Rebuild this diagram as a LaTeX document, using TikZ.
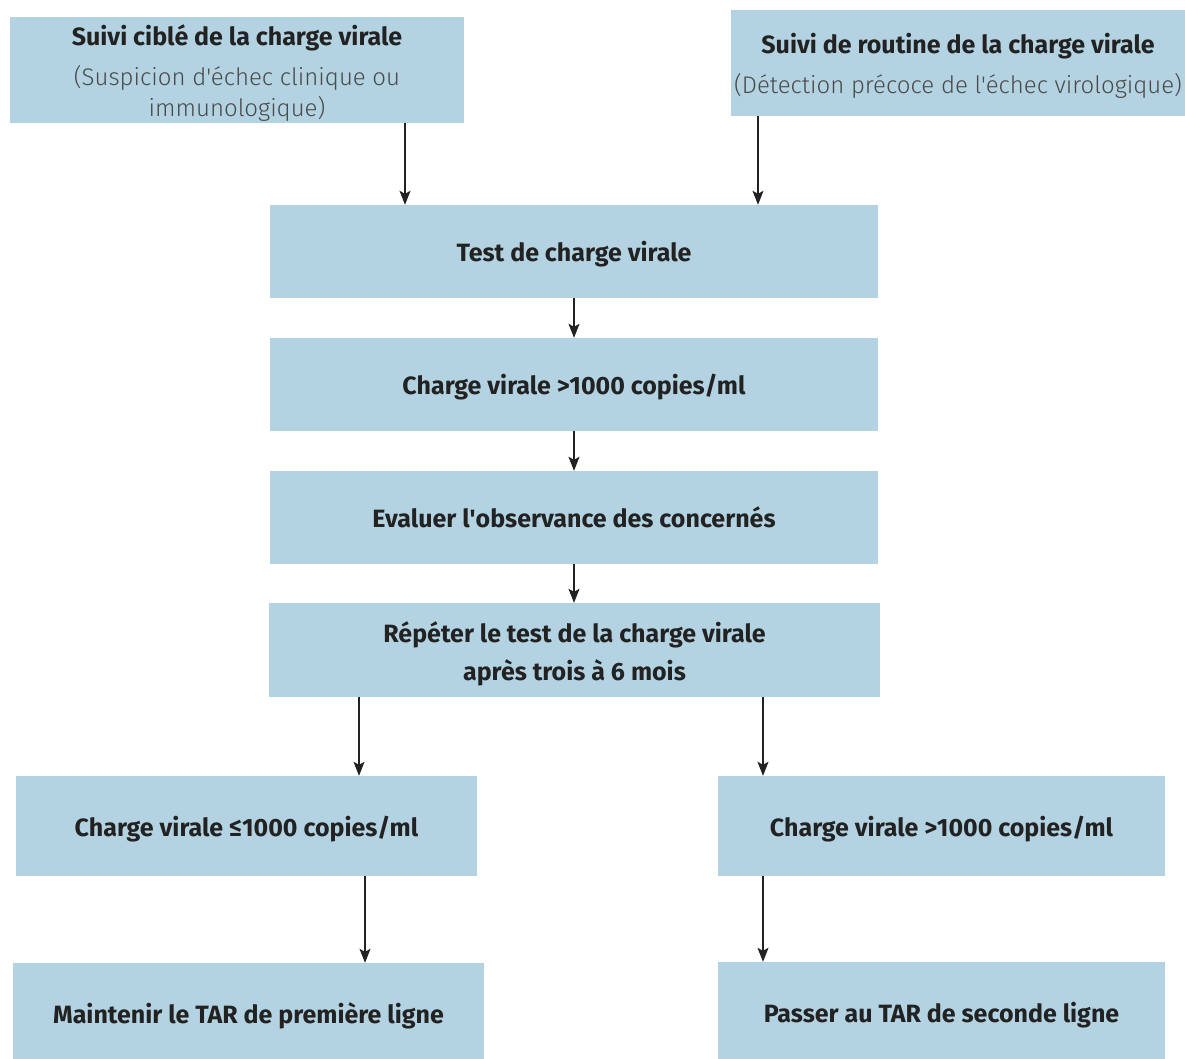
\documentclass[tikz,border=0pt]{standalone}
\usepackage{fontspec}
\setmainfont{Fira Sans}
\newfontfamily\lightfont{Fira Sans Light}
\usetikzlibrary{arrows.meta}
\definecolor{boxblue}{HTML}{B3D3E2}
\definecolor{ink}{HTML}{222222}
\definecolor{subink}{HTML}{4A4A4A}
% light grey subtitle lines
\newcommand{\sub}[1]{{\lightfont\fontsize{24}{31}\selectfont\color{subink}#1}}
% invisible struts fixing the top and bottom of multi-line blocks
\newcommand{\topfix}[1]{\rule{0pt}{#1}}
\newcommand{\botfix}[1]{\rule[-#1]{0pt}{#1}}

\begin{document}
\begin{tikzpicture}[x=1pt,y=-1pt,
  box/.style={fill=boxblue, inner sep=0pt, align=center, text=ink,
    font=\fontsize{25}{31}\selectfont},
  twobox/.style={box, font=\bfseries\fontsize{25}{38}\selectfont},
  stepbox/.style={box, font=\bfseries\fontsize{25}{30}\selectfont,
    text height=22pt, text depth=2pt},
  endbox/.style={stepbox, text height=24pt, text depth=0pt},
  arr/.style={-{Stealth[length=14pt,width=11pt,inset=3pt]}, line width=1.2pt, draw=ink}]
  \useasboundingbox (0,0) rectangle (1185,1059);

  % entry points
  \node[box, inner ysep=-3pt, minimum width=454, minimum height=106] (ciblé) at (237,70)
    {\topfix{30pt}\textbf{Suivi ciblé de la charge virale}\\[9pt]
     \sub{(Suspicion d'échec clinique ou}\\ \sub{immunologique)}\botfix{8pt}};
  \node[box, minimum width=454, minimum height=106] (routine) at (958,63)
    {\topfix{30pt}\textbf{Suivi de routine de la charge virale}\\[9pt]
     \sub{(Détection précoce de l'échec virologique)}\botfix{8pt}};

  % main chain
  \node[stepbox, minimum width=608, minimum height=93] (test) at (574,251.5) {Test de charge virale};
  \node[stepbox, minimum width=608, minimum height=93] (cv1) at (574,384.5) {Charge virale >1000 copies/ml};
  \node[stepbox, minimum width=608, minimum height=93] (obs) at (574,517.5) {Evaluer l\textquotesingle observance des concernés};
  \node[twobox, minimum width=611, minimum height=94] (rep) at (574.5,650)
    {\topfix{30pt}Répéter le test de la charge virale\\après trois à 6 mois\botfix{7pt}};

  % outcomes
  \node[stepbox, minimum width=461, minimum height=100] (low) at (246.5,826) {Charge virale ≤1000 copies/ml};
  \node[stepbox, minimum width=447, minimum height=100] (high) at (941.5,826) {Charge virale >1000 copies/ml};
  \node[endbox, minimum width=471, minimum height=96] (keep) at (248.5,1011) {Maintenir le TAR de première ligne};
  \node[endbox, minimum width=447, minimum height=97] (switch) at (941.5,1010.5) {Passer au TAR de seconde ligne};

  % arrow columns
  \coordinate (xa) at (405,0);
  \coordinate (xb) at (758,0);
  \coordinate (xm) at (574,0);
  \coordinate (xl) at (359,0);
  \coordinate (xr) at (763,0);
  \coordinate (xk) at (365,0);

  \draw[arr] (ciblé.south -| xa) -- (test.north -| xa);
  \draw[arr] (routine.south -| xb) -- (test.north -| xb);
  \draw[arr] (test.south -| xm) -- (cv1.north -| xm);
  \draw[arr] (cv1.south -| xm) -- (obs.north -| xm);
  \draw[arr] (obs.south -| xm) -- (rep.north -| xm);
  \draw[arr] (rep.south -| xl) -- (low.north -| xl);
  \draw[arr] (rep.south -| xr) -- (high.north -| xr);
  \draw[arr] (low.south -| xk) -- (keep.north -| xk);
  \draw[arr] (high.south -| xr) -- (switch.north -| xr);
\end{tikzpicture}
\end{document}
